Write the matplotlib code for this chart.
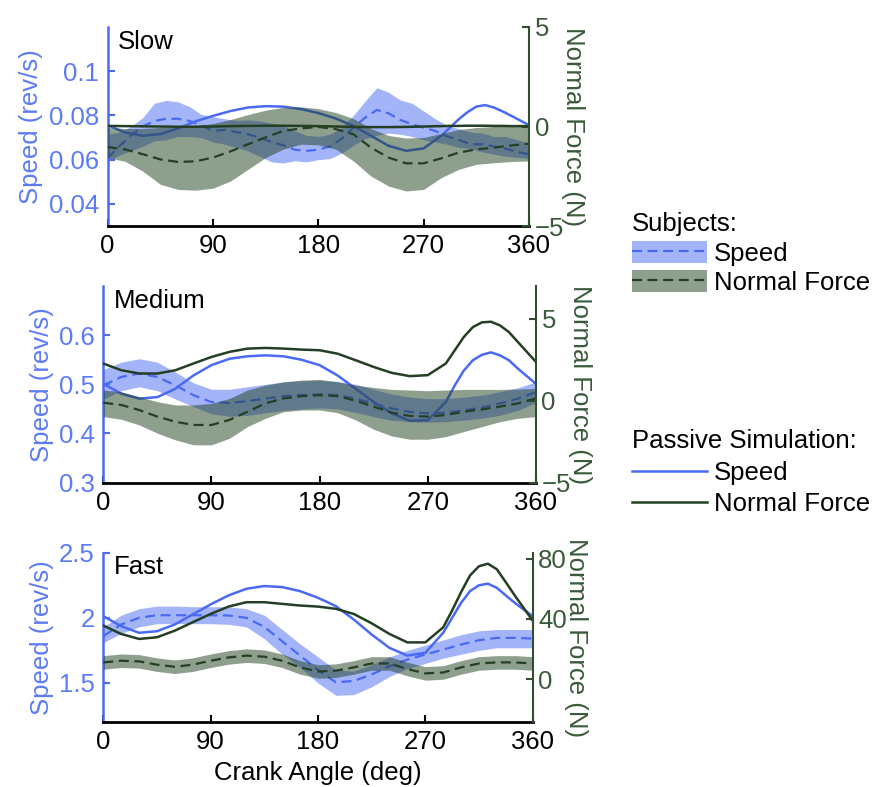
import matplotlib.pyplot as plt
from matplotlib.patches import Patch
from matplotlib.lines import Line2D
from matplotlib.ticker import FormatStrFormatter

plt.rcParams['font.family'] = ['Liberation Sans', 'DejaVu Sans']
plt.rcParams['font.size'] = 18.5

BLUE = '#4A6AF5'
BLUE_TXT = '#5C7BF6'
GREEN = '#1F411F'
GREEN_LINE = '#243F24'
GREEN_TXT = '#3A5A3A'
DASH = (0, (4.5, 2.5))

# crank angle samples (deg)
angle = list(range(0, 361, 15))
angle_fine = list(range(0, 361, 10))
angle_sim = [0, 15, 30, 45, 60, 75, 90, 105, 120, 135, 150, 165, 180, 195, 210, 225, 240,
             255, 270, 285, 292.5, 300, 307.5, 315, 322.5, 330, 337.5, 345, 360]

# ---- Slow ----
slow_sub_speed_hi = [0.0715, 0.0725, 0.075, 0.079, 0.0855, 0.0868, 0.0862, 0.084, 0.0805, 0.0795,
                     0.0785, 0.0778, 0.078, 0.0775, 0.0765, 0.0755, 0.073, 0.071, 0.0705, 0.0715,
                     0.0745, 0.080, 0.0865, 0.0925, 0.0905, 0.087, 0.0855, 0.082, 0.0785, 0.0755,
                     0.074, 0.0725, 0.072, 0.0705, 0.0705, 0.069, 0.0675]
slow_sub_speed = [0.0606, 0.066, 0.071, 0.075, 0.0775, 0.0785, 0.0785, 0.0775, 0.0755, 0.073,
                  0.0735, 0.0725, 0.0715, 0.070, 0.068, 0.0665, 0.0645, 0.064, 0.0645, 0.066,
                  0.0695, 0.0745, 0.079, 0.0825, 0.081, 0.078, 0.076, 0.0745, 0.073, 0.0705,
                  0.069, 0.067, 0.067, 0.066, 0.065, 0.0635, 0.0625]
slow_sub_speed_lo = [0.0595, 0.062, 0.064, 0.066, 0.0685, 0.069, 0.0705, 0.0705, 0.070, 0.068,
                     0.067, 0.0655, 0.064, 0.0615, 0.059, 0.0585, 0.0595, 0.059, 0.060, 0.0605,
                     0.063, 0.0665, 0.0695, 0.071, 0.072, 0.0715, 0.0705, 0.069, 0.068, 0.067,
                     0.0655, 0.065, 0.0635, 0.0625, 0.0615, 0.061, 0.0605]
slow_sub_force_hi = [-0.05, -0.1, -0.1, -0.05, 0.0, 0.05, 0.15, 0.35, 0.6, 0.82, 0.96, 0.99, 0.9,
                     0.7, 0.4, -0.1, -0.45, -0.58, -0.55, -0.35, -0.15, -0.05, 0.0, 0.0, 0.0]
slow_sub_force = [-1.03, -1.15, -1.39, -1.65, -1.78, -1.75, -1.56, -1.25, -0.89, -0.55, -0.22,
                  -0.1, -0.02, -0.13, -0.39, -1.06, -1.56, -1.85, -1.85, -1.6, -1.31, -1.15,
                  -1.06, -0.95, -0.86]
slow_sub_force_lo = [-1.56, -1.75, -2.24, -2.9, -3.16, -3.2, -3.1, -2.74, -2.15, -1.56, -1.14,
                     -0.89, -0.92, -1.14, -1.73, -2.49, -2.99, -3.24, -3.16, -2.57, -2.15, -1.9,
                     -1.82, -1.76, -1.73]
slow_sim_speed = [0.0756, 0.0723, 0.0708, 0.0716, 0.0741, 0.0773, 0.0798, 0.082, 0.0836, 0.0842,
                  0.084, 0.0829, 0.0811, 0.0786, 0.0753, 0.0708, 0.0663, 0.064, 0.0651, 0.0708,
                  0.0745, 0.0783, 0.0815, 0.084, 0.0847, 0.0836, 0.0818, 0.0798, 0.0756]
slow_sim_force = [0.03, 0.02, 0.01, 0.0, -0.01, -0.01, 0.0, 0.02, 0.03, 0.04, 0.04, 0.03, 0.02,
                  0.0, -0.02, -0.03, -0.03, -0.02, 0.0, 0.02, 0.03, 0.03, 0.04, 0.04, 0.04,
                  0.03, 0.03, 0.02, 0.02]

# ---- Medium ----
med_sub_speed_hi = [0.530, 0.545, 0.552, 0.545, 0.525, 0.503, 0.490, 0.490, 0.495, 0.500, 0.505,
                    0.507, 0.508, 0.506, 0.500, 0.490, 0.480, 0.474, 0.471, 0.471, 0.474, 0.478,
                    0.485, 0.493, 0.505]
med_sub_speed = [0.498, 0.515, 0.522, 0.515, 0.498, 0.478, 0.464, 0.462, 0.466, 0.471, 0.476,
                 0.478, 0.480, 0.478, 0.471, 0.461, 0.451, 0.444, 0.441, 0.442, 0.447, 0.453,
                 0.461, 0.471, 0.484]
med_sub_speed_lo = [0.470, 0.487, 0.495, 0.487, 0.470, 0.455, 0.440, 0.435, 0.437, 0.442, 0.447,
                    0.450, 0.452, 0.450, 0.443, 0.434, 0.427, 0.424, 0.423, 0.424, 0.427, 0.431,
                    0.437, 0.447, 0.463]
med_sub_force_hi = [0.65, 0.55, 0.24, -0.06, -0.26, -0.26, -0.16, 0.14, 0.65, 0.95, 1.15, 1.26,
                    1.3, 1.15, 0.95, 0.81, 0.69, 0.65, 0.61, 0.65, 0.69, 0.69, 0.69, 0.71, 0.75]
med_sub_force = [-0.12, -0.26, -0.57, -0.97, -1.28, -1.48, -1.48, -1.17, -0.67, -0.16, 0.14,
                 0.28, 0.34, 0.28, 0.0, -0.36, -0.73, -0.93, -0.97, -0.87, -0.67, -0.53, -0.36,
                 -0.16, 0.14]
med_sub_force_lo = [-0.97, -1.13, -1.48, -1.98, -2.39, -2.69, -2.69, -2.29, -1.58, -1.07, -0.67,
                    -0.57, -0.57, -0.73, -1.17, -1.74, -2.15, -2.35, -2.35, -2.19, -1.88, -1.58,
                    -1.28, -1.07, -0.97]
med_sim_speed = [0.501, 0.481, 0.471, 0.474, 0.491, 0.518, 0.539, 0.552, 0.557, 0.559, 0.557,
                 0.550, 0.539, 0.518, 0.491, 0.464, 0.441, 0.426, 0.427, 0.464, 0.498, 0.528,
                 0.549, 0.560, 0.565, 0.559, 0.549, 0.532, 0.501]
med_sim_force = [2.27, 1.86, 1.66, 1.66, 1.86, 2.27, 2.67, 2.98, 3.18, 3.22, 3.18, 3.12, 3.08,
                 2.87, 2.47, 2.06, 1.7, 1.5, 1.56, 2.27, 3.08, 3.89, 4.49, 4.78, 4.82, 4.6,
                 4.19, 3.58, 2.37]

# ---- Fast ----
fast_sub_speed_hi = [1.93, 2.02, 2.07, 2.09, 2.09, 2.085, 2.085, 2.085, 2.07, 2.02, 1.91, 1.80,
                     1.70, 1.60, 1.59, 1.64, 1.70, 1.75, 1.79, 1.83, 1.87, 1.90, 1.91, 1.91, 1.91]
fast_sub_speed = [1.859, 1.949, 2.0, 2.02, 2.02, 2.02, 2.02, 2.018, 2.0, 1.93, 1.82, 1.71,
                  1.60, 1.505, 1.515, 1.565, 1.628, 1.679, 1.718, 1.756, 1.795, 1.828, 1.846,
                  1.846, 1.841]
fast_sub_speed_lo = [1.81, 1.88, 1.93, 1.955, 1.955, 1.955, 1.955, 1.95, 1.93, 1.84, 1.72, 1.62,
                     1.50, 1.405, 1.41, 1.47, 1.55, 1.61, 1.65, 1.69, 1.72, 1.75, 1.77, 1.77, 1.77]
fast_sub_force_hi = [15.6, 16.7, 16.3, 14.1, 12.7, 14.1, 16.7, 18.9, 20.1, 19.4, 16.7, 12.3, 9.6,
                     10.1, 12.3, 14.9, 14.9, 11.2, 8.3, 8.9, 12.3, 14.9, 15.6, 15.6, 14.9]
fast_sub_force = [11.1, 12.2, 11.8, 9.6, 8.2, 9.6, 12.2, 14.4, 15.6, 14.9, 12.2, 7.8, 5.1, 5.6,
                  7.8, 10.4, 10.4, 6.7, 3.8, 4.4, 7.8, 10.4, 11.1, 11.1, 10.4]
fast_sub_force_lo = [6.6, 7.7, 7.3, 5.1, 3.7, 5.1, 7.7, 9.9, 11.1, 10.4, 7.7, 3.3, 0.6, 1.1, 3.3,
                     5.9, 5.9, 2.2, -0.7, -0.1, 3.3, 5.9, 6.6, 6.6, 5.9]
fast_sim_speed = [2.013, 1.936, 1.885, 1.897, 1.949, 2.026, 2.103, 2.172, 2.223, 2.244, 2.236,
                  2.205, 2.154, 2.09, 1.987, 1.872, 1.769, 1.71, 1.731, 1.885, 2.0, 2.115,
                  2.205, 2.25, 2.262, 2.23, 2.172, 2.115, 2.013]
fast_sim_force = [35.6, 30.0, 26.7, 27.8, 32.2, 37.8, 43.3, 48.2, 51.1, 51.1, 50.0, 48.9, 48.2,
                  46.7, 43.3, 37.1, 30.0, 24.4, 24.4, 34.4, 45.6, 57.8, 68.9, 75.0, 76.7, 73.0,
                  64.4, 55.6, 38.9]


def draw_panel(rect, title, sub_x, speed_band, force_band, sim_speed, sim_force,
               speed_lim, speed_ticks, force_lim, force_ticks, xlabel=None):
    ax = fig.add_axes(rect)
    ax2 = ax.twinx()

    # speed on the left axis
    ax.fill_between(sub_x, speed_band[0], speed_band[2], color=BLUE, alpha=0.5, lw=0)
    ax.plot(sub_x, speed_band[1], color=BLUE, lw=1.6, ls=DASH)
    ax.plot(angle_sim, sim_speed, color=BLUE, lw=1.8)

    # normal force on the right axis
    ax2.fill_between(angle, force_band[0], force_band[2], color=GREEN, alpha=0.5, lw=0)
    ax2.plot(angle, force_band[1], color=GREEN_LINE, lw=1.6, ls=DASH)
    ax2.plot(angle_sim, sim_force, color=GREEN_LINE, lw=1.8)

    ax.set_xlim(0, 360)
    ax.set_xticks([0, 90, 180, 270, 360])
    ax.set_ylim(*speed_lim)
    ax.set_yticks(speed_ticks)
    ax.yaxis.set_major_formatter(FormatStrFormatter('%g'))
    ax2.set_ylim(*force_lim)
    ax2.set_yticks(force_ticks)

    for s in ['top', 'right']:
        ax.spines[s].set_visible(False)
    for s in ['top', 'left', 'bottom']:
        ax2.spines[s].set_visible(False)
    ax.spines['left'].set_color(BLUE)
    ax.spines['left'].set_linewidth(1.8)
    ax.spines['bottom'].set_linewidth(2.0)
    ax2.spines['right'].set_color('#2F4F2F')
    ax2.spines['right'].set_linewidth(1.5)

    ax.tick_params(axis='x', direction='in', length=5, width=1.5, pad=6)
    ax.tick_params(axis='y', direction='in', length=5, width=1.5, pad=6,
                   color=BLUE, labelcolor=BLUE_TXT)
    ax2.tick_params(axis='y', direction='in', length=5, width=1.5, pad=4,
                    color='#2F4F2F', labelcolor=GREEN_TXT)

    ax.set_ylabel('Speed (rev/s)', color=BLUE_TXT, labelpad=4)
    ax2.set_ylabel('Normal Force (N)', color=GREEN_TXT, rotation=-90, va='bottom', labelpad=-2)
    if xlabel:
        ax.set_xlabel(xlabel, labelpad=5)
    ax.text(0.025, 0.985, title, transform=ax.transAxes, ha='left', va='top')
    return ax


fig = plt.figure(figsize=(8.91, 7.87), dpi=100)

draw_panel([0.1207, 0.7128, 0.473, 0.2529], 'Slow', angle_fine,
           (slow_sub_speed_hi, slow_sub_speed, slow_sub_speed_lo),
           (slow_sub_force_hi, slow_sub_force, slow_sub_force_lo),
           slow_sim_speed, slow_sim_force,
           (0.03, 0.12), [0.04, 0.06, 0.08, 0.1], (-5, 5), [-5, 0, 5])
draw_panel([0.1159, 0.3867, 0.4856, 0.2499], 'Medium', angle,
           (med_sub_speed_hi, med_sub_speed, med_sub_speed_lo),
           (med_sub_force_hi, med_sub_force, med_sub_force_lo),
           med_sim_speed, med_sim_force,
           (0.3, 0.7), [0.3, 0.4, 0.5, 0.6], (-5, 7), [-5, 0, 5])
draw_panel([0.1159, 0.0826, 0.4819, 0.2151], 'Fast', angle,
           (fast_sub_speed_hi, fast_sub_speed, fast_sub_speed_lo),
           (fast_sub_force_hi, fast_sub_force, fast_sub_force_lo),
           fast_sim_speed, fast_sim_force,
           (1.2, 2.5), [1.5, 2, 2.5], (-28.5, 84), [0, 40, 80],
           xlabel='Crank Angle (deg)')

# legends
sub_handles = [
    (Patch(facecolor=BLUE, alpha=0.5, lw=0), Line2D([], [], color=BLUE, lw=1.6, ls=DASH)),
    (Patch(facecolor=GREEN, alpha=0.5, lw=0), Line2D([], [], color=GREEN_LINE, lw=1.6, ls=DASH)),
]
leg1 = fig.legend(sub_handles, ['Speed', 'Normal Force'], title='Subjects:',
                  loc='upper left', bbox_to_anchor=(632 / 891, 1 - 212 / 787),
                  frameon=False, borderpad=0, borderaxespad=0, handlelength=2.9,
                  handleheight=0.95, handletextpad=0.3, labelspacing=0.18,
                  title_fontsize=18.5, alignment='left')

sim_handles = [Line2D([], [], color=BLUE, lw=1.8), Line2D([], [], color=GREEN_LINE, lw=1.8)]
leg2 = fig.legend(sim_handles, ['Speed', 'Normal Force'], title='Passive Simulation:',
                  loc='upper left', bbox_to_anchor=(632 / 891, 1 - 429 / 787),
                  frameon=False, borderpad=0, borderaxespad=0, handlelength=2.9,
                  handletextpad=0.3, labelspacing=0.3, title_fontsize=18.5,
                  alignment='left')

fig.savefig('out.png', dpi=100)
